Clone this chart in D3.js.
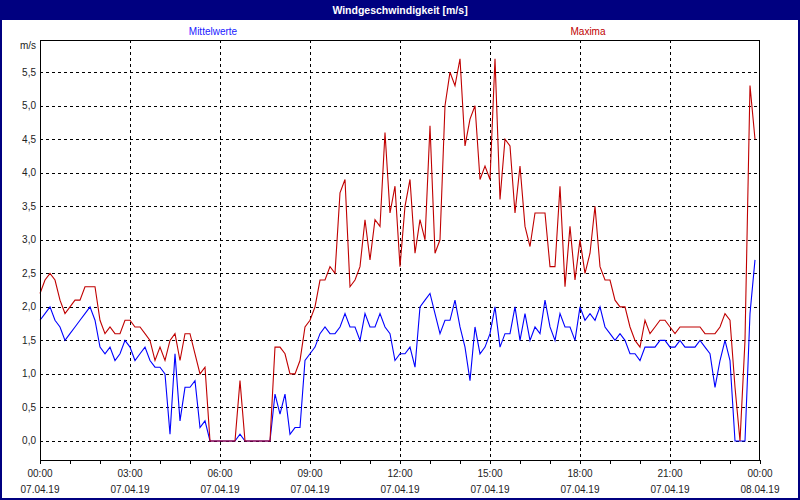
<!DOCTYPE html>
<html><head><meta charset="utf-8">
<script src="https://cdn.jsdelivr.net/npm/d3@7"></script>
<style>body{margin:0;background:#fff}svg{display:block}text{font-family:"Liberation Sans",Arial,sans-serif}</style>
</head><body>
<svg id="c" width="800" height="500"></svg>
<script>
const title = "Windgeschwindigkeit [m/s]";
const seriesNames = ["Mittelwerte", "Maxima"];
const unitLabel = "m/s";
const startTime = new Date(2019, 3, 7, 0, 0);
const endTime = new Date(2019, 3, 8, 0, 0);
const stepMinutes = 10;
const yTicks = [0,0.5,1,1.5,2,2.5,3,3.5,4,4.5,5,5.5];

const mittelwerte = [
1.8,1.9,2.0,1.8,1.7,1.5,1.6,1.7,1.8,1.9,2.0,1.8,1.4,1.3,1.4,1.2,1.3,1.5,1.4,1.2,
1.3,1.4,1.2,1.1,1.1,1.0,0.1,1.3,0.3,0.8,0.8,0.9,0.2,0.3,0,0,0,0,0,0,
0.1,0,0,0,0,0,0,0.7,0.4,0.7,0.1,0.2,0.2,1.2,1.3,1.4,1.6,1.7,1.6,1.6,
1.7,1.9,1.7,1.7,1.5,1.9,1.7,1.7,1.9,1.7,1.6,1.2,1.3,1.3,1.4,1.1,2.0,2.1,2.2,1.9,
1.6,1.8,1.8,2.1,1.7,1.4,0.9,1.7,1.3,1.4,1.6,2.0,1.4,1.6,1.6,2.0,1.5,1.9,1.5,1.7,
1.6,2.1,1.7,1.5,1.9,1.7,1.7,1.5,2.0,1.8,1.9,1.8,2.0,1.7,1.6,1.5,1.6,1.5,1.3,1.3,
1.2,1.4,1.4,1.4,1.5,1.5,1.4,1.4,1.5,1.4,1.4,1.4,1.5,1.4,1.3,0.8,1.2,1.5,1.2,0,
0,0,1.9,2.7];

const maxima = [
2.2,2.4,2.5,2.4,2.1,1.9,2.0,2.1,2.1,2.3,2.3,2.3,1.8,1.6,1.7,1.6,1.6,1.8,1.8,1.7,
1.7,1.6,1.5,1.2,1.4,1.2,1.5,1.6,1.2,1.6,1.6,1.3,1.0,1.1,0,0,0,0,0,0,
0.9,0,0,0,0,0,0,1.4,1.4,1.3,1.0,1.0,1.2,1.7,1.8,2.0,2.4,2.4,2.6,2.5,
3.7,3.9,2.3,2.4,2.6,3.3,2.7,3.3,3.2,4.6,3.4,3.8,2.6,3.5,3.9,2.8,3.3,3.0,4.7,2.8,
3.0,5.0,5.5,5.3,5.7,4.4,4.8,5.0,3.9,4.1,3.9,5.7,3.6,4.5,4.4,3.4,4.1,3.2,2.9,3.4,
3.4,3.4,2.6,2.6,3.8,2.3,3.2,2.4,3.0,2.5,2.8,3.5,2.6,2.4,2.4,2.1,2.0,2.0,1.7,1.5,
1.4,1.8,1.6,1.7,1.8,1.8,1.7,1.6,1.7,1.7,1.7,1.7,1.7,1.6,1.6,1.6,1.7,1.9,1.8,0.8,
0,1.5,5.3,4.5];

const colors = {blue:"#0000ff", red:"#c00000", navy:"#000080"};

const svg = d3.select("#c");
const L=40, R=760, T=40, B=460;

svg.append("rect").attr("x",1).attr("y",1).attr("width",798).attr("height",498)
  .attr("fill","#fff").attr("stroke",colors.navy).attr("stroke-width",2);
svg.append("rect").attr("x",0).attr("y",0).attr("width",800).attr("height",20).attr("fill",colors.navy);
svg.append("text").attr("x",400).attr("y",14).attr("text-anchor","middle")
  .attr("fill","#fff").attr("font-weight","bold").attr("font-size","10.5px").text(title);

svg.append("text").attr("x",213).attr("y",35).attr("text-anchor","middle")
  .attr("fill","#2020ff").attr("font-size","10px").text(seriesNames[0]);
svg.append("text").attr("x",588).attr("y",35).attr("text-anchor","middle")
  .attr("fill",colors.red).attr("font-size","10px").text(seriesNames[1]);

const x = d3.scaleTime().domain([startTime,endTime]).range([L,R]);
const y = d3.scaleLinear().domain([-0.284,5.98]).range([B,T]);

const g = svg.append("g");
// horizontal grid
g.selectAll("line.hg").data(yTicks).enter().append("line")
  .attr("x1",L).attr("x2",R)
  .attr("y1",d=>Math.round(y(d))+0.5).attr("y2",d=>Math.round(y(d))+0.5)
  .attr("stroke","#000").attr("stroke-dasharray","3,3").attr("shape-rendering","crispEdges");
// y labels
const fmt = d3.format(".1f");
g.selectAll("text.yl").data(yTicks).enter().append("text")
  .attr("x",36).attr("y",d=>y(d)+3.5).attr("text-anchor","end")
  .attr("font-size","10px").attr("fill","#222").text(d=>fmt(d).replace(".",","));
g.append("text").attr("x",36).attr("y",49).attr("text-anchor","end")
  .attr("font-size","10px").attr("fill","#222").text(unitLabel);

// vertical grid every 3 hours
const major = x.ticks(d3.timeHour.every(3));
g.selectAll("line.vg").data(major.filter(d=>d>startTime && d<endTime)).enter().append("line")
  .attr("y1",T).attr("y2",B)
  .attr("x1",d=>Math.round(x(d))+0.5).attr("x2",d=>Math.round(x(d))+0.5)
  .attr("stroke","#000").attr("stroke-dasharray","3,3").attr("shape-rendering","crispEdges");

// x axis minor ticks
const minor = x.ticks(d3.timeHour.every(1));
g.selectAll("line.tk").data(minor).enter().append("line")
  .attr("x1",d=>Math.round(x(d))+0.5).attr("x2",d=>Math.round(x(d))+0.5)
  .attr("y1",B).attr("y2",B+4).attr("stroke","#000").attr("shape-rendering","crispEdges");
const tf = d3.timeFormat("%H:%M"), df = d3.timeFormat("%d.%m.%y");
const lab = g.selectAll("g.xl").data(major).enter().append("g");
lab.append("text").attr("x",d=>x(d)).attr("y",477).attr("text-anchor","middle")
  .attr("font-size","10px").attr("fill","#222").text(d=>tf(d));
lab.append("text").attr("x",d=>x(d)).attr("y",493).attr("text-anchor","middle")
  .attr("font-size","10px").attr("fill","#222").text(d=>df(d));

// lines
const t = i => new Date(startTime.getTime() + i*stepMinutes*60000);
const line = d3.line().x((d,i)=>x(t(i))).y(d=>y(d));
svg.append("path").attr("d",line(mittelwerte)).attr("fill","none")
  .attr("stroke",colors.blue).attr("stroke-width",1.1);
svg.append("path").attr("d",line(maxima)).attr("fill","none")
  .attr("stroke",colors.red).attr("stroke-width",1.1);

// frame
svg.append("rect").attr("x",L+0.5).attr("y",T+0.5).attr("width",R-L-1).attr("height",B-T)
  .attr("fill","none").attr("stroke","#000").attr("shape-rendering","crispEdges");
</script>
</body></html>
